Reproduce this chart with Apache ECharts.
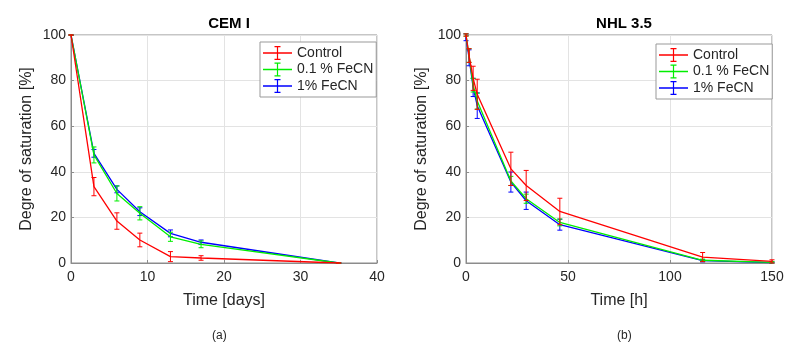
<!DOCTYPE html>
<html>
<head>
<meta charset="utf-8">
<script src="https://cdn.jsdelivr.net/npm/echarts@6/dist/echarts.min.js"></script>
<style>
  html, body { margin: 0; padding: 0; background: #fff; }
  #chart { width: 809px; height: 352px; }
</style>
</head>
<body>
<div id="chart"></div>
<script>
// (a) CEM I, time in days
const cemTime = [0, 3, 6, 9, 13, 17, 35]
const cemControl = [100, 33.5, 18.4, 10.1, 2.8, 2.2, 0]
const cemControlErr = [0, 4, 3.6, 3, 2.2, 1, 0]
const cemFe01 = [100, 47.4, 30.5, 21.8, 11.5, 8.2, 0]
const cemFe01Err = [0, 3.5, 3.3, 2.9, 2, 1.5, 0]
const cemFe1 = [100, 48.1, 32.3, 22.5, 13.0, 9.1, 0]
const cemFe1Err = [0, 1.7, 1.5, 1.7, 1.5, 1, 0]

// (b) NHL 3.5, time in hours
const nhlTime = [0, 1.5, 3.5, 5.5, 22, 29.5, 46, 116, 150]
const nhlControl = [100, 91, 81, 74, 41.3, 34, 22.6, 2.6, 0.7]
const nhlControlErr = [0.5, 3, 5.3, 6.6, 7.3, 6.6, 5.8, 2, 0.7]
const nhlFe01 = [100, 91, 78, 71, 36, 28.2, 17.8, 1.2, 0.3]
const nhlFe01Err = [0.5, 3, 3, 3.5, 2, 2, 1.5, 0.5, 0.3]
const nhlFe1 = [99, 90, 77, 69, 35.5, 27.3, 16.8, 1.0, 0.2]
const nhlFe1Err = [1.5, 3.5, 4, 5.6, 4.4, 3.8, 2.4, 0.5, 0.2]

const seriesNames = ['Control', '0.1 % FeCN', '1% FeCN']
const colors = ['#ff0000', '#00ee00', '#0000ff']
const yTicks = { min: 0, max: 100, interval: 20 }

const FONT = 'Liberation Sans, Arial, Helvetica, sans-serif'
const TXT = '#262626'

// line + error bar, used as the legend symbol
const errIcon =
  'path://M0,6.3H29V7.7H0Z M13.9,1H15.1V13H13.9Z M11.5,1H17.5V2.1H11.5Z M11.5,11.9H17.5V13H11.5Z'

function pairs(xs, ys) {
  return xs.map((x, i) => [x, ys[i]])
}
function bars(xs, ys, es) {
  return xs.map((x, i) => [x, ys[i] - es[i], ys[i] + es[i]])
}

function errorBars(color) {
  return function (params, api) {
    const x = api.value(0)
    const lo = api.coord([x, api.value(1)])
    const hi = api.coord([x, api.value(2)])
    const w = 2.5
    const style = { stroke: color, lineWidth: 1 }
    return {
      type: 'group',
      children: [
        { type: 'line', shape: { x1: lo[0], y1: lo[1], x2: hi[0], y2: hi[1] }, style },
        { type: 'line', shape: { x1: lo[0] - w, y1: lo[1], x2: lo[0] + w, y2: lo[1] }, style },
        { type: 'line', shape: { x1: hi[0] - w, y1: hi[1], x2: hi[0] + w, y2: hi[1] }, style }
      ]
    }
  }
}

function makeSeries(idx, time, groups) {
  const out = []
  groups.forEach((g, k) => {
    out.push({
      type: 'line',
      name: seriesNames[k],
      xAxisIndex: idx,
      yAxisIndex: idx,
      data: pairs(time, g[0]),
      symbol: 'none',
      color: colors[k],
      lineStyle: { width: 1.3, color: colors[k] },
      z: 3 - k + 2,
      animation: false
    })
    out.push({
      type: 'custom',
      name: seriesNames[k] + ' err',
      xAxisIndex: idx,
      yAxisIndex: idx,
      data: bars(time, g[0], g[1]),
      encode: { x: 0, y: [1, 2] },
      renderItem: errorBars(colors[k]),
      z: 3 - k + 2,
      clip: false,
      animation: false
    })
  })
  return out
}

function xAxis(idx, max, interval, name) {
  return {
    type: 'value',
    gridIndex: idx,
    min: 0,
    max,
    interval,
    name,
    nameLocation: 'middle',
    nameGap: 30,
    nameTextStyle: { fontFamily: FONT, fontSize: 16, color: TXT },
    axisLine: { show: true, onZero: false, lineStyle: { color: '#8c8c8c' } },
    axisTick: { show: true, inside: true, length: 3, lineStyle: { color: '#8c8c8c' } },
    axisLabel: { fontFamily: FONT, fontSize: 14, color: TXT, margin: 7 },
    splitLine: { show: true, lineStyle: { color: '#e3e3e3' } }
  }
}

function yAxis(idx) {
  return {
    type: 'value',
    gridIndex: idx,
    min: yTicks.min,
    max: yTicks.max,
    interval: yTicks.interval,
    name: 'Degre of saturation [%]',
    nameLocation: 'middle',
    nameGap: 36,
    nameTextStyle: { fontFamily: FONT, fontSize: 16, color: TXT },
    axisLine: { show: true, lineStyle: { color: '#8c8c8c' } },
    axisTick: { show: true, inside: true, length: 3, lineStyle: { color: '#8c8c8c' } },
    axisLabel: { fontFamily: FONT, fontSize: 14, color: TXT, margin: 5 },
    splitLine: { show: true, lineStyle: { color: '#e3e3e3' } }
  }
}

function legend(left, top) {
  return {
    data: seriesNames,
    orient: 'vertical',
    left,
    top,
    icon: errIcon,
    symbolKeepAspect: false,
    itemWidth: 29,
    itemHeight: 14,
    itemGap: 2.5,
    padding: [4, 3, 4, 3],
    borderColor: '#999',
    borderWidth: 1,
    backgroundColor: '#fff',
    itemStyle: { borderWidth: 0 },
    textStyle: { fontFamily: FONT, fontSize: 14, color: TXT, lineHeight: 14 },
    selectedMode: false
  }
}

const chart = echarts.init(document.getElementById('chart'), null, { renderer: 'canvas' })

chart.setOption({
  backgroundColor: '#fff',
  animation: false,
  title: [
    { text: 'CEM I', left: 224, top: 11, textAlign: 'center',
      textStyle: { fontFamily: FONT, fontSize: 15, fontWeight: 'bold', color: '#000' } },
    { text: 'NHL 3.5', left: 619, top: 11, textAlign: 'center',
      textStyle: { fontFamily: FONT, fontSize: 15, fontWeight: 'bold', color: '#000' } }
  ],
  grid: [
    { left: 71, top: 35, width: 306, height: 228, show: true, borderColor: '#8c8c8c', borderWidth: 1 },
    { left: 466, top: 35, width: 306, height: 228, show: true, borderColor: '#8c8c8c', borderWidth: 1 }
  ],
  xAxis: [xAxis(0, 40, 10, 'Time [days]'), xAxis(1, 150, 50, 'Time [h]')],
  yAxis: [yAxis(0), yAxis(1)],
  legend: [legend(260, 42), legend(656, 44)],
  graphic: [
    { type: 'text', left: 212, top: 330, style: { text: '(a)', font: '12px ' + FONT, fill: TXT } },
    { type: 'text', left: 617, top: 330, style: { text: '(b)', font: '12px ' + FONT, fill: TXT } }
  ],
  series: [
    ...makeSeries(0, cemTime, [
      [cemControl, cemControlErr],
      [cemFe01, cemFe01Err],
      [cemFe1, cemFe1Err]
    ]),
    ...makeSeries(1, nhlTime, [
      [nhlControl, nhlControlErr],
      [nhlFe01, nhlFe01Err],
      [nhlFe1, nhlFe1Err]
    ])
  ]
})
</script>
</body>
</html>
